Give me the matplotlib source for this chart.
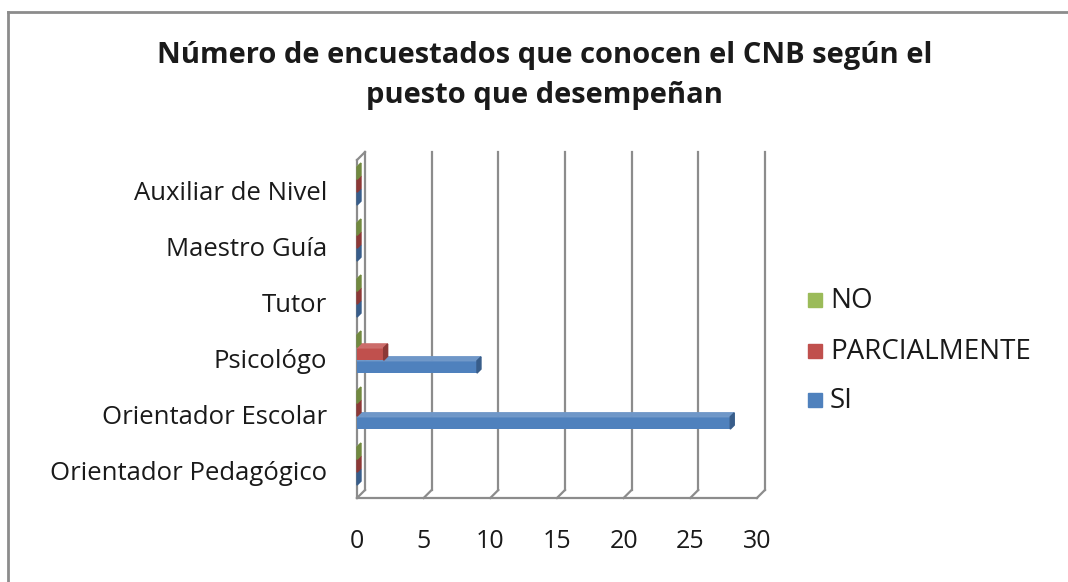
import matplotlib
matplotlib.use("Agg")
import matplotlib.pyplot as plt
from matplotlib.patches import Polygon
from matplotlib.lines import Line2D

categories = ["Orientador Pedagógico", "Orientador Escolar", "Psicológo",
              "Tutor", "Maestro Guía", "Auxiliar de Nivel"]
series_names = ["SI", "PARCIALMENTE", "NO"]
si = [0, 28, 9, 0, 0, 0]
parcialmente = [0, 0, 2, 0, 0, 0]
no = [0, 0, 0, 0, 0, 0]
xticks = [0, 5, 10, 15, 20, 25, 30]

colors = ["#4F81BD", "#C0504D", "#9BBB59"]
sides = ["#385D8A", "#8C3836", "#71893F"]
tops = ["#6F97C8", "#CC6C6A", "#ABC777"]

plt.rcParams["font.family"] = ["Open Sans", "DejaVu Sans"]

W, H = 1068, 582
fig = plt.figure(figsize=(W / 100, H / 100), dpi=100)

# axes placed in pixel coords: x 350..775, y 145..505
ax = fig.add_axes([350 / W, 1 - 505 / H, 425 / W, 360 / H])
px = 13.33          # pixels per x unit
py = 56.0           # pixels per category
ax.set_xlim(-7 / px, 418 / px)
ax.set_ylim(-35 / py, 5 + 45 / py)
ax.axis("off")

ddx, ddy = 8 / px, 8 / py      # depth of back wall
bdx, bdy = 4 / px, 4 / py      # depth of bars
grid = "#8C8C8C"
floor_y = -0.5
top_y = 5 + 38 / py

# back wall gridlines + floor slants
for t in xticks:
    ax.plot([t + ddx, t + ddx], [floor_y + ddy, top_y], color=grid, lw=1.6, zorder=1)
    ax.plot([t, t + ddx], [floor_y, floor_y + ddy], color=grid, lw=1.6, zorder=1)
ax.plot([0, xticks[-1]], [floor_y, floor_y], color=grid, lw=1.6, zorder=1)
# side wall
ax.plot([0, 0], [floor_y, top_y - ddy], color=grid, lw=1.6, zorder=1)
ax.plot([0, ddx], [top_y - ddy, top_y], color=grid, lw=1.6, zorder=1)

h = 0.22
offsets = [-0.16, 0.07, 0.30]
for vals, off, c, sc, tc in zip([si, parcialmente, no], offsets, colors, sides, tops):
    ys = [i + off for i in range(len(categories))]
    ax.barh(ys, vals, height=h, color=c, zorder=3)
    for y, v in zip(ys, vals):
        y0, y1 = y - h / 2, y + h / 2
        ax.add_patch(Polygon([(0, y1), (v, y1), (v + bdx, y1 + bdy), (bdx, y1 + bdy)],
                             closed=True, color=tc, zorder=3))
        ax.add_patch(Polygon([(v, y0), (v + bdx, y0 + bdy), (v + bdx, y1 + bdy), (v, y1)],
                             closed=True, color=sc, zorder=4))

for i, name in enumerate(categories):
    ax.text(-30 / px, i - 3 / py, name, ha="right", va="center", fontsize=18.5,
            color="#1a1a1a")
for t in xticks:
    ax.text(t, floor_y - 44 / py, str(t), ha="center", va="center", fontsize=18,
            color="#1a1a1a")

# legend
leg_items = [("NO", colors[2], 300), ("PARCIALMENTE", colors[1], 351), ("SI", colors[0], 400)]
for label, c, ypx in leg_items:
    fig.patches.append(plt.Rectangle((808 / W, 1 - (ypx + 7) / H), 14 / W, 14 / H,
                                     transform=fig.transFigure, color=c))
    fig.text(830 / W, 1 - (ypx + 1) / H, label, ha="left", va="center", fontsize=20,
             color="#1a1a1a")

fig.text(545 / W, 1 - 55 / H, "Número de encuestados que conocen el CNB según el",
         ha="center", va="center", fontsize=21, fontweight="bold", color="#1a1a1a")
fig.text(545 / W, 1 - 96 / H, "puesto que desempeñan",
         ha="center", va="center", fontsize=21, fontweight="bold", color="#1a1a1a")

# chart frame (top and left edges visible)
fig.add_artist(Line2D([8 / W, 1], [1 - 12 / H, 1 - 12 / H], transform=fig.transFigure,
                      color="#8C8C8C", lw=2))
fig.add_artist(Line2D([8 / W, 8 / W], [0, 1 - 12 / H], transform=fig.transFigure,
                      color="#8C8C8C", lw=2))

fig.savefig("out.png", dpi=100)
